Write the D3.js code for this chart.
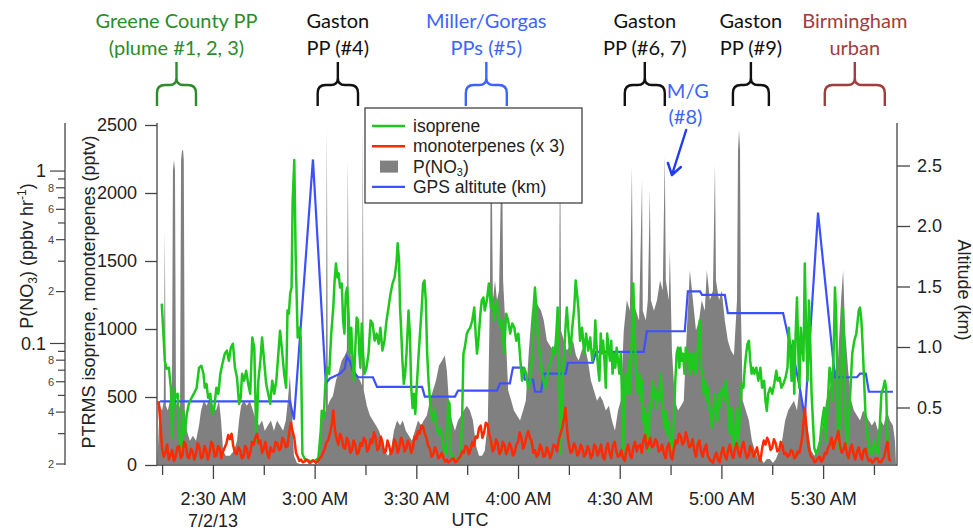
<!DOCTYPE html>
<html><head><meta charset="utf-8">
<script src="https://cdn.jsdelivr.net/npm/d3@7"></script>
<style>
body{margin:0;background:#fff;}
svg{display:block;}
text{font-family:"Liberation Sans",Arial,sans-serif;}
.ann text{font-family:Lato,"Open Sans",sans-serif;}
</style></head><body>
<svg id="chart" width="973" height="531"></svg>
<script>
// Flight of 2 July 2013 (UTC). Times are minutes after 02:00 UTC.
const isoprene = [[14.9,1187],[15.3,1010],[15.8,767],[16.3,708],[17.0,715],[17.6,568],[18.0,199],[18.6,568],[19.0,494],[19.6,524],[20.2,177],[20.8,103],[21.2,398],[21.7,229],[22.3,376],[22.9,450],[23.7,494],[24.5,531],[25.2,568],[25.9,715],[26.6,730],[27.2,671],[27.6,568],[28.1,597],[28.6,494],[29.2,524],[29.8,376],[30.4,420],[31.0,568],[31.6,524],[32.2,671],[32.8,745],[33.5,819],[34.1,841],[34.7,767],[35.3,863],[35.9,892],[36.5,715],[37.1,642],[37.7,450],[38.2,494],[38.6,671],[39.2,620],[39.8,693],[40.4,597],[41.0,524],[41.6,937],[42.2,863],[42.8,177],[43.4,620],[44.0,767],[44.5,937],[45.1,767],[45.7,597],[46.3,524],[46.9,450],[47.5,620],[48.1,524],[48.7,620],[49.3,819],[49.8,988],[50.4,841],[51.0,671],[51.6,568],[52.0,1136],[52.4,1113],[52.8,1261],[53.2,1305],[53.5,1925],[54.0,2242],[54.4,1556],[55.0,937],[55.5,1010],[55.9,937],[56.4,81],[57.1,44],[58.6,30],[60.1,30],[61.1,52],[61.8,250],[62.1,398],[62.7,347],[63.1,568],[63.7,715],[64.3,671],[64.9,966],[65.5,1158],[65.9,1357],[66.3,1482],[66.7,1379],[67.1,1409],[67.5,1305],[68.0,1335],[68.4,1062],[68.8,966],[69.2,1261],[69.6,1305],[70.0,1113],[70.4,819],[70.8,1010],[71.2,767],[71.6,620],[72.0,863],[72.4,1084],[72.8,1062],[73.2,819],[73.5,715],[73.9,1040],[74.3,819],[74.7,671],[75.3,715],[75.9,819],[76.5,1062],[77.1,1040],[77.7,914],[78.3,966],[78.9,892],[79.4,1010],[80.0,841],[80.6,914],[81.2,1062],[81.8,1158],[82.4,1261],[83.0,1335],[83.6,1379],[84.2,1505],[84.5,1630],[84.9,1505],[85.2,1158],[85.5,1010],[85.9,767],[86.3,597],[86.7,671],[87.1,819],[87.7,1136],[88.1,966],[88.5,568],[88.9,420],[89.3,524],[89.7,376],[90.1,568],[90.7,819],[91.2,1010],[91.6,1158],[92.0,1335],[92.4,1357],[92.8,1210],[93.2,819],[93.6,620],[94.2,420],[94.8,324],[95.4,420],[96.0,273],[96.6,229],[97.1,273],[97.7,177],[98.3,103],[98.9,81],[99.4,472],[99.8,450],[100.2,81],[100.8,52],[102.0,44],[103.0,52],[103.5,324],[103.9,819],[104.3,863],[104.9,966],[105.3,988],[105.9,1010],[106.5,1062],[107.1,1158],[107.5,966],[107.9,819],[108.3,914],[108.9,1113],[109.3,1210],[109.8,1232],[110.2,1136],[110.8,1210],[111.4,1335],[112.0,1158],[112.4,1232],[113.0,1062],[113.6,1210],[114.2,1113],[114.8,1010],[115.3,1062],[115.9,819],[116.5,1113],[117.1,1062],[117.7,966],[118.3,1040],[118.9,1010],[119.5,914],[120.1,966],[120.7,767],[121.2,620],[121.8,715],[122.4,671],[123.0,568],[123.6,620],[124.2,819],[124.6,1158],[125.0,1305],[125.4,1158],[125.8,966],[126.4,819],[126.9,715],[127.5,620],[127.9,568],[128.5,620],[129.1,715],[129.7,767],[130.3,863],[130.9,819],[131.3,966],[131.7,1158],[132.1,767],[132.5,81],[132.8,324],[133.2,671],[133.6,819],[134.0,1010],[134.4,1158],[134.8,1010],[135.4,819],[136.0,1010],[136.6,1158],[137.0,1357],[137.4,1261],[137.8,1158],[138.3,914],[138.9,1010],[139.5,819],[140.1,966],[140.7,841],[141.3,937],[141.9,767],[142.5,863],[142.8,1062],[143.2,863],[143.6,715],[144.0,620],[144.4,966],[144.7,819],[145.1,914],[145.5,767],[145.9,568],[146.3,966],[146.7,863],[147.1,767],[147.5,914],[147.9,671],[148.3,819],[148.7,715],[149.1,863],[149.5,767],[149.9,671],[150.3,819],[150.6,568],[151.0,81],[151.4,524],[151.8,671],[152.2,524],[152.6,767],[153.0,524],[153.6,937],[154.0,1335],[154.4,966],[154.8,671],[155.4,524],[155.8,671],[156.2,472],[156.5,620],[156.9,324],[157.3,420],[157.7,177],[158.1,376],[158.5,103],[158.9,450],[159.3,420],[159.7,620],[160.1,494],[160.5,568],[160.9,420],[161.3,524],[161.7,472],[162.0,671],[162.4,568],[162.8,376],[163.2,273],[163.6,398],[164.0,229],[164.4,324],[164.8,177],[165.2,103],[165.6,199],[166.0,324],[166.4,620],[166.8,819],[167.2,863],[167.6,715],[167.9,863],[168.3,767],[168.7,819],[169.1,671],[169.5,863],[169.9,767],[170.3,819],[170.7,671],[171.1,819],[171.5,715],[171.9,819],[172.3,671],[172.7,715],[173.3,966],[173.6,1062],[174.0,715],[174.4,671],[174.8,524],[175.2,620],[175.6,472],[176.0,568],[176.4,420],[176.8,376],[177.2,273],[177.6,376],[178.0,524],[178.4,420],[178.8,324],[179.2,524],[179.5,420],[179.9,524],[180.3,568],[180.9,472],[181.3,620],[181.7,524],[182.1,324],[182.5,229],[182.9,420],[183.3,273],[183.7,125],[184.1,229],[184.5,420],[185.0,125],[185.4,376],[186.0,597],[186.5,568],[186.9,715],[187.3,819],[187.7,892],[188.1,914],[188.5,767],[188.9,671],[189.3,715],[189.7,671],[190.3,715],[190.9,620],[191.5,715],[192.0,568],[192.6,620],[193.0,472],[193.4,398],[193.8,524],[194.4,568],[195.0,524],[195.6,597],[196.2,693],[196.6,620],[197.2,642],[197.7,568],[198.3,597],[198.9,642],[199.5,715],[199.9,1010],[200.3,819],[200.7,620],[201.1,914],[201.5,524],[201.9,966],[202.3,1232],[202.7,819],[203.0,568],[203.4,1010],[203.8,863],[204.2,767],[204.6,1482],[205.0,966],[205.4,620],[205.8,1210],[206.2,914],[206.6,524],[207.0,324],[207.4,125],[208.0,81],[208.6,125],[209.1,177],[209.7,324],[210.3,420],[210.9,177],[211.5,524],[211.9,715],[212.3,671],[212.7,472],[213.1,819],[213.5,1305],[213.9,1062],[214.3,324],[214.6,125],[215.0,376],[215.4,671],[215.8,1158],[216.2,819],[216.6,324],[217.0,125],[217.4,273],[218.0,524],[218.6,819],[219.2,914],[219.8,966],[220.2,1062],[220.5,1136],[220.9,1158],[221.3,1062],[221.7,863],[222.1,620],[222.5,376],[222.9,273],[223.3,177],[223.9,81],[224.5,81],[225.1,177],[225.7,103],[226.3,81],[226.8,324],[227.2,524],[227.8,568],[228.2,620],[228.6,568],[229.0,125],[229.4,81]];

// monoterpenes, already multiplied by 3 (pptv)
const monoterpenes = [[14.0,470],[14.5,300],[15,120],[15.5,60],[16,90],[16.5,150],[17,40],[17.5,80],[18,110],[18.5,30],[19,60],[19.5,130],[20,140],[20.5,50],[21,70],[21.5,170],[22,150],[22.5,60],[23,50],[23.5,120],[24,100],[24.5,40],[25,80],[25.5,160],[26,130],[26.5,50],[27,60],[27.5,140],[28,110],[28.5,40],[29,90],[29.5,170],[30,150],[30.5,60],[31,70],[31.5,140],[32,120],[32.5,50],[33,100],[33.5,130],[34,160],[34.5,220],[35,190],[35.5,230],[36,140],[36.5,90],[37,80],[37.5,130],[38,110],[38.5,50],[39,60],[39.5,140],[40,120],[40.5,50],[41,90],[41.5,170],[42,150],[42.5,200],[43,230],[43.5,160],[44,180],[44.5,90],[45,120],[45.5,170],[46,90],[46.5,50],[47,130],[47.5,100],[48,100],[48.5,170],[49,160],[49.5,110],[50,120],[50.5,200],[51,180],[51.5,130],[52,140],[52.5,240],[53,310],[53.5,250],[54,200],[54.5,90],[55,60],[55.5,30],[56,40],[56.5,20],[57,25],[57.5,40],[58,30],[58.5,15],[59,20],[59.5,35],[60,25],[60.5,15],[61,30],[61.5,50],[62,60],[62.5,90],[63,120],[63.5,170],[64,180],[64.5,230],[65,290],[65.5,400],[66,260],[66.5,190],[67,150],[67.5,230],[68,200],[68.5,130],[69,120],[69.5,200],[70,170],[70.5,90],[71,110],[71.5,180],[72,150],[72.5,80],[73,90],[73.5,160],[74,140],[74.5,200],[75,180],[75.5,100],[76,120],[76.5,190],[77,160],[77.5,240],[78,200],[78.5,110],[79,130],[79.5,210],[80,170],[80.5,90],[81,100],[81.5,180],[82,140],[82.5,80],[83,110],[83.5,190],[84,160],[84.5,90],[85,130],[85.5,200],[86,170],[86.5,100],[87,120],[87.5,180],[88,150],[88.5,90],[89,130],[89.5,210],[90,190],[90.5,250],[91,230],[91.5,290],[92,280],[92.5,230],[93,200],[93.5,140],[94,120],[94.5,60],[95,80],[95.5,130],[96,100],[96.5,50],[97,60],[97.5,90],[98,50],[98.5,25],[99,40],[99.5,20],[100,30],[100.5,45],[101,50],[101.5,20],[102,30],[102.5,50],[103,60],[103.5,100],[104,90],[104.5,140],[105,130],[105.5,80],[106,110],[106.5,170],[107,140],[107.5,210],[108,200],[108.5,270],[109,290],[109.5,200],[110,240],[110.5,310],[111,300],[111.5,230],[112,180],[112.5,100],[113,120],[113.5,190],[114,160],[114.5,80],[115,100],[115.5,170],[116,150],[116.5,80],[117,110],[117.5,160],[118,130],[118.5,70],[119,90],[119.5,150],[120,170],[120.5,240],[121,200],[121.5,120],[122,150],[122.5,210],[123,250],[123.5,200],[124,180],[124.5,90],[125,110],[125.5,60],[126,80],[126.5,150],[127,120],[127.5,60],[128,70],[128.5,130],[129,100],[129.5,50],[130,90],[130.5,150],[131,140],[131.5,100],[132,180],[132.5,230],[133,270],[133.5,330],[134,420],[134.5,250],[135,150],[135.5,90],[136,100],[136.5,160],[137,130],[137.5,70],[138,90],[138.5,150],[139,120],[139.5,60],[140,80],[140.5,140],[141,110],[141.5,50],[142,80],[142.5,150],[143,130],[143.5,70],[144,100],[144.5,150],[145,60],[145.5,40],[146,120],[146.5,160],[147,90],[147.5,50],[148,140],[148.5,170],[149,100],[149.5,60],[150,70],[150.5,110],[151,50],[151.5,30],[152,110],[152.5,150],[153,80],[153.5,50],[154,130],[154.5,170],[155,100],[155.5,140],[156,150],[156.5,90],[157,180],[157.5,220],[158,120],[158.5,160],[159,200],[159.5,130],[160,140],[160.5,190],[161,170],[161.5,100],[162,110],[162.5,150],[163,90],[163.5,50],[164,130],[164.5,160],[165,70],[165.5,40],[166,120],[166.5,180],[167,160],[167.5,230],[168,210],[168.5,150],[169,170],[169.5,240],[170,190],[170.5,130],[171,140],[171.5,190],[172,110],[172.5,60],[173,150],[173.5,180],[174,100],[174.5,60],[175,120],[175.5,150],[176,70],[176.5,40],[177,30],[177.5,15],[178,60],[178.5,90],[179,40],[179.5,20],[180,90],[180.5,130],[181,70],[181.5,40],[182,110],[182.5,150],[183,80],[183.5,50],[184,120],[184.5,160],[185,90],[185.5,60],[186,130],[186.5,170],[187,100],[187.5,50],[188,70],[188.5,140],[189,110],[189.5,60],[190,90],[190.5,130],[191,60],[191.5,30],[192,120],[192.5,180],[193,150],[193.5,200],[194,170],[194.5,110],[195,130],[195.5,190],[196,160],[196.5,100],[197,110],[197.5,170],[198,140],[198.5,80],[199,90],[199.5,60],[200,70],[200.5,110],[201,100],[201.5,50],[202,60],[202.5,100],[203,90],[203.5,150],[203.8,200],[204.3,330],[204.6,420],[205,300],[205.3,220],[205.7,130],[206,100],[206.5,60],[207,50],[207.5,20],[208,30],[208.5,50],[209,60],[209.5,25],[210,40],[210.5,90],[211,80],[211.5,130],[212,150],[212.5,200],[213,120],[213.5,170],[214,200],[214.5,250],[215,140],[215.5,90],[216,110],[216.5,160],[217,90],[217.5,50],[218,120],[218.5,150],[219,80],[219.5,40],[220,100],[220.5,130],[221,70],[221.5,40],[222,110],[222.5,120],[223,60],[223.5,30],[224,40],[224.5,15],[225,30],[225.5,50],[226,50],[226.5,20],[227,20],[227.5,40],[228,60],[228.5,120],[229,170],[229.5,40],[230,30]];

// P(NO3), ppbv per hour
const pNO3 = [[13.6,0.02],[14.1,0.0357],[14.4,0.0436],[15.0,0.0408],[15.5,0.0466],[15.8,0.45],[16.1,0.0436],[16.7,0.0408],[17.3,0.0466],[17.9,0.0436],[18.2,1.01],[18.5,1.16],[18.8,1.01],[19.1,0.0466],[19.7,0.0408],[20.3,0.0436],[20.6,1.16],[20.9,1.32],[21.2,1.32],[21.4,1.16],[21.7,0.0408],[22.3,0.0312],[23.2,0.0273],[24.1,0.0292],[25.0,0.0273],[25.9,0.0334],[26.5,0.0408],[27.3,0.0466],[28.2,0.0436],[29.1,0.0498],[30.0,0.0436],[30.9,0.0408],[31.8,0.0466],[32.4,0.0357],[33.0,0.0239],[33.8,0.0223],[35.0,0.0223],[36.2,0.0239],[37.1,0.0273],[37.7,0.0357],[38.3,0.0436],[39.1,0.0466],[40.0,0.0436],[40.9,0.0466],[41.8,0.0408],[42.7,0.0357],[43.6,0.0334],[44.5,0.0357],[45.3,0.0312],[46.2,0.0334],[47.1,0.0357],[48.0,0.0312],[48.9,0.0357],[49.8,0.0334],[50.7,0.0312],[51.5,0.0357],[52.1,0.0466],[52.7,0.0651],[53.3,0.0408],[53.9,0.0223],[54.8,0.0203],[55.7,0.02],[61.0,0.02],[61.6,0.0273],[62.1,0.0357],[62.7,0.0382],[63.3,0.0408],[63.6,1.8],[63.9,0.0436],[64.5,0.0466],[65.4,0.0498],[66.3,0.0609],[67.2,0.0697],[68.0,0.0797],[68.9,0.0852],[69.5,0.0911],[69.8,1.16],[70.1,0.0911],[70.7,0.0852],[71.6,0.0745],[72.5,0.0651],[73.4,0.0609],[74.0,0.057],[74.2,1.8],[74.5,0.0533],[75.4,0.0436],[76.3,0.0382],[77.2,0.0357],[78.1,0.0334],[79.0,0.0312],[79.9,0.0273],[80.7,0.0239],[81.6,0.0223],[82.5,0.0239],[83.4,0.0312],[84.3,0.0357],[85.2,0.0334],[86.0,0.0357],[86.9,0.0312],[87.8,0.0292],[88.7,0.0273],[89.6,0.0312],[90.5,0.0357],[91.4,0.0334],[92.2,0.0357],[93.1,0.0382],[94.0,0.0466],[94.9,0.0533],[95.8,0.0609],[96.7,0.0745],[97.6,0.0797],[98.4,0.0852],[99.0,0.0697],[99.6,0.0466],[100.5,0.0357],[101.4,0.0312],[102.3,0.0357],[103.2,0.0382],[104.0,0.0408],[104.9,0.0436],[105.8,0.0408],[106.7,0.0357],[107.6,0.0255],[108.5,0.0223],[109.4,0.0223],[110.2,0.0239],[111.1,0.0357],[111.7,0.178],[112.0,1.5],[112.3,0.775],[112.6,0.178],[113.2,0.232],[113.8,0.178],[114.4,0.203],[115.0,0.885],[115.3,1.5],[115.6,0.232],[116.2,0.136],[117.1,0.0533],[118.0,0.0466],[118.8,0.0408],[119.7,0.0382],[120.6,0.0357],[121.5,0.0408],[122.3,0.0466],[123.2,0.0911],[124.1,0.155],[125.0,0.178],[125.9,0.166],[126.8,0.155],[127.6,0.136],[128.5,0.104],[129.4,0.0974],[130.3,0.0911],[131.2,0.104],[132.1,0.119],[132.4,1.8],[132.7,0.119],[133.5,0.104],[134.4,0.0911],[135.3,0.0974],[136.2,0.104],[137.1,0.0852],[137.9,0.0797],[138.8,0.0911],[139.7,0.0974],[140.6,0.0797],[141.5,0.0609],[142.4,0.0533],[143.3,0.0466],[144.2,0.0498],[145.0,0.0466],[145.9,0.0408],[146.8,0.0436],[147.7,0.0357],[148.6,0.0312],[149.5,0.0408],[150.3,0.0466],[151.2,0.119],[152.1,0.178],[153.0,0.155],[153.6,1.06],[153.9,0.178],[154.8,0.155],[155.7,0.136],[156.6,0.885],[156.8,0.155],[157.7,0.136],[158.3,0.178],[158.9,0.775],[159.2,0.178],[160.1,0.155],[161.0,0.178],[161.9,0.232],[162.7,0.203],[163.3,1.24],[163.6,0.232],[164.5,0.178],[164.8,0.347],[165.4,0.0911],[166.3,0.0466],[167.2,0.0408],[168.1,0.0436],[168.9,0.0466],[169.8,0.119],[170.7,0.266],[171.6,0.178],[172.5,0.119],[173.4,0.136],[174.2,0.178],[175.1,0.155],[175.7,0.266],[176.6,0.178],[177.5,0.203],[178.1,1.09],[178.4,0.232],[179.3,0.178],[180.1,0.203],[181.0,0.136],[181.9,0.104],[182.8,0.0911],[183.7,0.0852],[184.6,0.178],[184.9,1.32],[185.2,1.73],[185.5,1.32],[185.7,0.178],[186.3,0.0466],[187.2,0.0408],[188.1,0.0357],[189.0,0.0273],[189.9,0.0239],[190.8,0.0214],[191.7,0.0214],[192.5,0.0203],[193.4,0.0214],[194.3,0.0214],[195.2,0.0203],[196.1,0.0214],[197.0,0.0239],[197.9,0.0273],[198.8,0.0357],[199.7,0.0408],[200.5,0.0436],[201.4,0.0466],[202.3,0.0408],[203.2,0.0609],[203.8,0.0466],[204.7,0.0408],[205.6,0.0312],[206.5,0.0239],[207.4,0.0223],[208.3,0.0239],[209.2,0.0273],[210.1,0.0357],[210.9,0.0466],[211.8,0.0533],[212.7,0.0609],[213.6,0.0697],[214.4,0.0797],[215.3,0.178],[215.9,0.266],[216.5,0.119],[217.4,0.0697],[218.3,0.0466],[219.1,0.0408],[220.0,0.0382],[220.9,0.0357],[221.8,0.0408],[222.7,0.0382],[223.5,0.0357],[224.4,0.0334],[225.3,0.0357],[226.2,0.0312],[227.0,0.0357],[227.9,0.0334],[228.8,0.0408],[229.7,0.0357],[230.6,0.0334],[231.2,0.0273],[231.5,0.02]];

// GPS altitude, km
const altitude = [[14.4,0.55],[52.7,0.55],[53.9,0.40],[59.5,2.55],[63.3,0.70],[64.5,0.74],[67.5,0.78],[68.9,0.82],[69.5,0.92],[70.4,0.88],[71.3,0.80],[72.8,0.75],[77.2,0.75],[78.4,0.67],[91.7,0.67],[92.5,0.59],[101.4,0.59],[102.3,0.64],[113.8,0.64],[114.7,0.70],[117.6,0.70],[118.5,0.83],[121.4,0.83],[122.0,0.73],[124.4,0.73],[125.0,0.63],[126.8,0.63],[127.6,0.78],[134.1,0.78],[134.7,0.87],[142.1,0.87],[143.0,0.96],[157.1,0.96],[158.0,1.13],[169.2,1.13],[170.1,1.46],[173.7,1.46],[174.3,1.43],[181.0,1.43],[181.9,1.28],[198.2,1.28],[199.6,1.10],[201.1,0.95],[203.2,0.65],[204.6,0.42],[208.5,2.11],[213.5,0.75],[220.0,0.75],[220.9,0.78],[222.6,0.78],[223.5,0.63],[230.6,0.63]];

const leftTicks = [0, 500, 1000, 1500, 2000, 2500];
const altTicks = [0.5, 1.0, 1.5, 2.0, 2.5];
const logMajor = [0.1, 1];
const logLabelled = [0.02, 0.04, 0.06, 0.08, 0.2, 0.4, 0.6, 0.8];
const logPlain = [0.03, 0.05, 0.07, 0.09, 0.3, 0.5, 0.7, 0.9];

// plume annotations: [first line, second line, start min, end min, colour]
const plumes = [
  ["Greene County PP", "(plume #1, 2, 3)", 13.5, 25.0, "#2a8c2a"],
  ["Gaston", "PP (#4)", 60.9, 72.8, "#111"],
  ["Miller/Gorgas", "PPs (#5)", 104.6, 116.7, "#3d64ff"],
  ["Gaston", "PP (#6, 7)", 151.5, 163.3, "#111"],
  ["Gaston", "PP (#9)", 183.4, 194.0, "#111"],
  ["Birmingham", "urban", 210.5, 228.2, "#a33c3c"]
];

const svg = d3.select("#chart");
const L = 157, R = 897, T = 123, B = 465;
const t0 = Date.UTC(2013, 6, 2, 2, 0);
const toDate = m => new Date(t0 + m * 60000);

const x = d3.scaleUtc().domain([toDate(13.5), toDate(231.8)]).range([L, R]);
const yL = d3.scaleLinear().domain([0, 2500]).range([465, 125]);
const yP = d3.scaleLog().domain([0.02, 1.85]).range([464, 125]);
const yA = d3.scaleLinear().domain([0.5, 2.5]).range([407.5, 165.5]);

svg.append("defs").append("clipPath").attr("id", "plot")
  .append("rect").attr("x", L).attr("y", T).attr("width", R - L).attr("height", B - T);

const plot = svg.append("g").attr("clip-path", "url(#plot)");

plot.append("path").datum(pNO3)
  .attr("fill", "#808080")
  .attr("d", d3.area().x(d => x(toDate(d[0]))).y0(yP(0.02)).y1(d => yP(d[1])));

plot.append("path").datum(altitude)
  .attr("fill", "none").attr("stroke", "#3c50ff").attr("stroke-width", 2.2)
  .attr("d", d3.line().x(d => x(toDate(d[0]))).y(d => yA(d[1])));

plot.append("path").datum(isoprene)
  .attr("fill", "none").attr("stroke", "#1ec81e").attr("stroke-width", 2.5)
  .attr("stroke-linejoin", "round")
  .attr("d", d3.line().x(d => x(toDate(d[0]))).y(d => yL(d[1])));

plot.append("path").datum(monoterpenes)
  .attr("fill", "none").attr("stroke", "#ff2a00").attr("stroke-width", 2.5)
  .attr("stroke-linejoin", "round")
  .attr("d", d3.line().x(d => x(toDate(d[0]))).y(d => yL(d[1])));

const axisColor = "#444";
const txt = "#222";

// frame
svg.append("path").attr("fill", "none").attr("stroke", axisColor).attr("stroke-width", 1.3)
  .attr("d", `M${L},${T}V${B}H${R}V${T}`);

// left linear axis
const gl = svg.append("g").attr("transform", `translate(${L},0)`)
  .call(d3.axisLeft(yL).tickValues(leftTicks).tickFormat(d3.format("d")).tickSize(12).tickPadding(8).tickSizeOuter(0));
gl.select(".domain").remove();
gl.selectAll("line").attr("stroke", axisColor).attr("stroke-width", 1.3);
gl.selectAll("text").attr("font-size", 18).attr("fill", txt);

// right altitude axis
const gr = svg.append("g").attr("transform", `translate(${R},0)`)
  .call(d3.axisRight(yA).tickValues(altTicks).tickFormat(d3.format(".1f")).tickSize(13).tickPadding(7).tickSizeOuter(0));
gr.select(".domain").remove();
gr.selectAll("line").attr("stroke", axisColor).attr("stroke-width", 1.3);
gr.selectAll("text").attr("font-size", 18).attr("fill", txt);

// log axis for P(NO3)
const LX = 65;
const glog = svg.append("g");
glog.append("line").attr("x1", LX).attr("x2", LX).attr("y1", T).attr("y2", B)
  .attr("stroke", axisColor).attr("stroke-width", 1.3);
const allLog = logMajor.map(v => [v, 15]).concat(logLabelled.map(v => [v, 9]), logPlain.map(v => [v, 7]));
glog.selectAll("line.tk").data(allLog).join("line").attr("class", "tk")
  .attr("x1", d => LX - d[1]).attr("x2", LX)
  .attr("y1", d => yP(d[0])).attr("y2", d => yP(d[0]))
  .attr("stroke", axisColor).attr("stroke-width", 1.2);
glog.selectAll("text.maj").data(logMajor).join("text").attr("class", "maj")
  .attr("x", LX - 19).attr("y", d => yP(d)).attr("dy", "0.35em")
  .attr("text-anchor", "end").attr("font-size", 18).attr("fill", txt)
  .text(d => d3.format("")(d));
glog.selectAll("text.min").data(logLabelled).join("text").attr("class", "min")
  .attr("x", LX - 11).attr("y", d => yP(d)).attr("dy", "0.35em")
  .attr("text-anchor", "end").attr("font-size", 11).attr("fill", "#444")
  .text(d => Math.round(d / Math.pow(10, Math.floor(Math.log10(d) + 1e-9))));

// time axis
const gb = svg.append("g").attr("transform", `translate(0,${B})`)
  .call(d3.axisBottom(x).ticks(d3.utcMinute.every(15)).tickSize(14).tickPadding(13)
    .tickFormat(d => d.getUTCMinutes() % 30 === 0 ? d3.utcFormat("%-I:%M %p")(d) : "").tickSizeOuter(0));
gb.select(".domain").remove();
gb.selectAll("line").attr("stroke", axisColor).attr("stroke-width", 1.3)
  .attr("y2", d => d.getUTCMinutes() % 30 === 0 ? 14 : 10);
gb.selectAll("text").attr("font-size", 18).attr("fill", txt);

svg.append("text").attr("x", x(toDate(30))).attr("y", 527).attr("text-anchor", "middle")
  .attr("font-size", 18).attr("fill", txt).text("7/2/13");
svg.append("text").attr("x", 470).attr("y", 526).attr("text-anchor", "middle")
  .attr("font-size", 18).attr("fill", txt).text("UTC");

// axis titles
svg.append("text").attr("transform", "translate(95,292) rotate(-90)")
  .attr("text-anchor", "middle").attr("font-size", 18).attr("fill", txt)
  .text("PTRMS isoprene, monoterpenes (pptv)");
const t2 = svg.append("text").attr("transform", "translate(33,256) rotate(-90)")
  .attr("text-anchor", "middle").attr("font-size", 18).attr("fill", txt);
t2.append("tspan").text("P(NO");
t2.append("tspan").attr("font-size", 12).attr("dy", 4).text("3");
t2.append("tspan").attr("dy", -4).text(") (ppbv hr");
t2.append("tspan").attr("font-size", 12).attr("dy", -7).text("-1");
t2.append("tspan").attr("dy", 7).text(")");
svg.append("text").attr("transform", "translate(958,290) rotate(90)")
  .attr("text-anchor", "middle").attr("font-size", 18).attr("fill", txt)
  .text("Altitude (km)");

// legend
const lg = svg.append("g");
lg.append("rect").attr("x", 365).attr("y", 108).attr("width", 217).attr("height", 95)
  .attr("fill", "#fff").attr("stroke", "#333").attr("stroke-width", 1.2);
const legendRows = [
  ["isoprene", "#1ec81e", "line"],
  ["monoterpenes (x 3)", "#ff2a00", "line"],
  ["P(NO3)", "#808080", "box"],
  ["GPS altitute (km)", "#3c50ff", "line"]
];
legendRows.forEach((r, i) => {
  const cy = 126 + i * 20.3;
  if (r[2] === "line") {
    lg.append("line").attr("x1", 372).attr("x2", 405).attr("y1", cy).attr("y2", cy)
      .attr("stroke", r[1]).attr("stroke-width", 2.4);
  } else {
    lg.append("rect").attr("x", 380).attr("y", cy - 6).attr("width", 18).attr("height", 12).attr("fill", r[1]);
  }
  const t = lg.append("text").attr("x", 413).attr("y", cy + 6).attr("font-size", 17.5).attr("fill", txt);
  if (r[0] === "P(NO3)") {
    t.append("tspan").text("P(NO");
    t.append("tspan").attr("font-size", 11).attr("dy", 3).text("3");
    t.append("tspan").attr("dy", -3).text(")");
  } else t.text(r[0]);
});

// plume braces and labels
const ann = svg.append("g").attr("class", "ann");
function brace(x1, x2) {
  const cx = (x1 + x2) / 2, yt = 62, ya = 85, yb = 106, r = 8;
  return `M${cx},${yt}V${ya - 7}Q${cx},${ya} ${cx - 7},${ya}H${x1 + r}Q${x1},${ya} ${x1},${ya + r}V${yb}` +
         `M${cx},${ya - 7}Q${cx},${ya} ${cx + 7},${ya}H${x2 - r}Q${x2},${ya} ${x2},${ya + r}V${yb}`;
}
plumes.forEach(p => {
  const x1 = x(toDate(p[2])), x2 = x(toDate(p[3])), cx = (x1 + x2) / 2;
  ann.append("path").attr("d", brace(x1, x2)).attr("fill", "none")
    .attr("stroke", p[4]).attr("stroke-width", 2.4);
  ann.append("text").attr("x", cx).attr("y", 28).attr("text-anchor", "middle")
    .attr("font-size", 20).attr("fill", p[4]).text(p[0]);
  ann.append("text").attr("x", cx).attr("y", 55).attr("text-anchor", "middle")
    .attr("font-size", 20).attr("fill", p[4]).text(p[1]);
});
ann.append("text").attr("x", x(toDate(170.1))).attr("y", 98).attr("text-anchor", "middle")
  .attr("font-size", 20).attr("fill", "#3d64ff").text("M/G");
ann.append("text").attr("x", x(toDate(169.4))).attr("y", 124).attr("text-anchor", "middle")
  .attr("font-size", 20).attr("fill", "#3d64ff").text("(#8)");
const ax1 = x(toDate(169.6)), ax2 = x(toDate(165.4));
ann.append("path").attr("fill", "none").attr("stroke", "#1f3cf0").attr("stroke-width", 2.4)
  .attr("stroke-linecap", "round").attr("stroke-linejoin", "round")
  .attr("d", `M${ax1},130L${ax2},175M${ax2 - 4},163L${ax2},175L${ax2 + 9},167`);
</script>
</body></html>
